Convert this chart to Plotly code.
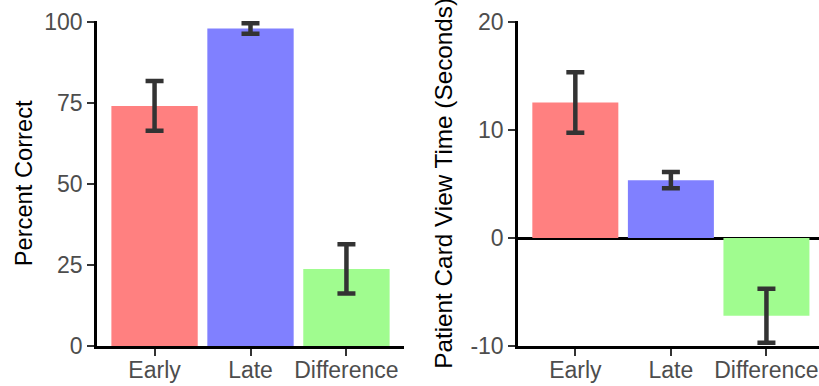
import plotly.graph_objects as go
from plotly.subplots import make_subplots

categories = ["Early", "Late", "Difference"]
pct_mean = [74.1, 98.0, 23.8]
pct_err = [7.7, 1.6, 7.6]
time_mean = [12.55, 5.35, -7.2]
time_err = [2.8, 0.75, 2.5]
bar_colors = ["#FF8080", "#8080FF", "#A0FC8F"]
pct_ticks = [0, 25, 50, 75, 100]
time_ticks = [-10, 0, 10, 20]

FONT = "Liberation Sans, Arial, sans-serif"

fig = make_subplots(rows=1, cols=2)

err_style = dict(type="data", color="#333333", thickness=4.5, width=9)

fig.add_trace(go.Bar(x=categories, y=pct_mean, width=0.9,
                     marker=dict(color=bar_colors, line=dict(width=0)),
                     error_y=dict(array=pct_err, **err_style),
                     showlegend=False), row=1, col=1)
fig.add_trace(go.Bar(x=categories, y=time_mean, width=0.9,
                     marker=dict(color=bar_colors, line=dict(width=0)),
                     error_y=dict(array=time_err, **err_style),
                     showlegend=False), row=1, col=2)

ydom = [40 / 386, (386 - 20.7) / 386]

axis_common = dict(showline=True, linecolor="black", linewidth=2.5, automargin=False,
                   ticks="outside", ticklen=7, tickwidth=2.2, tickcolor="#333333",
                   showgrid=False, tickfont=dict(family=FONT, size=23, color="#4D4D4D"))

fig.update_xaxes(axis_common, zeroline=False, type="category", ticklabelstandoff=-5)
fig.update_xaxes(domain=[97 / 819, 404 / 819], range=[-0.6, 2.6], row=1, col=1)
fig.update_xaxes(domain=[518 / 819, 1.0], range=[-0.6, 2.55], row=1, col=2)

fig.update_yaxes(axis_common)
fig.update_yaxes(domain=ydom, range=[0, 100.4], tickvals=pct_ticks, zeroline=False,
                 title=dict(text="Percent Correct", font=dict(family=FONT, size=23.7, color="black"), standoff=5),
                 row=1, col=1)
fig.update_yaxes(domain=ydom, range=[-10, 20.12], tickvals=time_ticks, ticktext=["-10", "0", "10", "20"],
                 zeroline=True, zerolinecolor="black", zerolinewidth=2.5,
                 title=dict(text="Patient Card View Time (Seconds)", font=dict(family=FONT, size=24.3, color="black"), standoff=11),
                 row=1, col=2)

fig.update_layout(width=819, height=386, margin=dict(l=0, r=0, t=0, b=0),
                  plot_bgcolor="white", paper_bgcolor="white",
                  font=dict(family=FONT))

fig.write_html("out.html")
